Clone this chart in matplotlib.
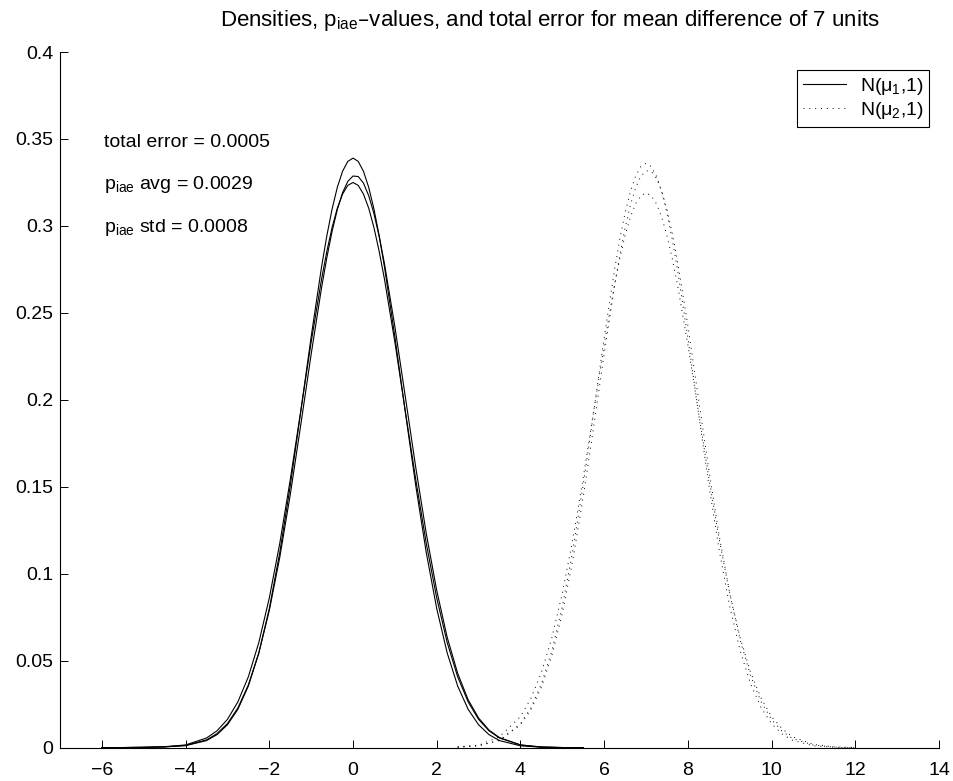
import matplotlib
matplotlib.use("Agg")
import matplotlib.pyplot as plt

plt.rcParams['font.family'] = ['Liberation Sans', 'DejaVu Sans']
plt.rcParams['mathtext.default'] = 'regular'

# densities: three estimates around mu1 = 0 (solid)
x1 = [-6.0, -5.5, -5.0, -4.5, -4.0, -3.5, -3.25, -3.0, -2.75, -2.5, -2.25, -2.0,
      -1.75, -1.5, -1.25, -1.0, -0.75, -0.625, -0.5, -0.375, -0.25, -0.125, 0.0,
      0.125, 0.25, 0.375, 0.5, 0.625, 0.75, 1.0,
      1.25, 1.5, 1.75, 2.0, 2.25, 2.5, 2.75, 3.0, 3.25, 3.5, 4.0, 4.5, 5.0, 5.5]
dens1_a = [0.0, 0.0001, 0.0002, 0.0005, 0.0012, 0.0041, 0.0075, 0.0132, 0.0221, 0.0355,
           0.0545, 0.0800, 0.1122, 0.1505, 0.1929, 0.2363, 0.2767, 0.2944, 0.3097, 0.3222,
           0.3314, 0.3371, 0.3390, 0.3371, 0.3314, 0.3222, 0.3097, 0.2944, 0.2767, 0.2363,
           0.1929, 0.1505, 0.1122, 0.0800, 0.0545, 0.0355,
           0.0221, 0.0132, 0.0075, 0.0041, 0.0011, 0.0003, 0.0001, 0.0]
dens1_b = [0.0, 0.0001, 0.0002, 0.0005, 0.0013, 0.0045, 0.0081, 0.0139, 0.0229, 0.0361,
           0.0545, 0.0789, 0.1094, 0.1454, 0.1853, 0.2262, 0.2647, 0.2818, 0.2969, 0.3094,
           0.3191, 0.3256, 0.3287, 0.3284, 0.3246, 0.3174, 0.3071, 0.2940, 0.2785, 0.2421,
           0.2017, 0.1610, 0.1232, 0.0904, 0.0635, 0.0428,
           0.0276, 0.0171, 0.0101, 0.0058, 0.0016, 0.0004, 0.0001, 0.0]
dens1_c = [0.0, 0.0001, 0.0003, 0.0006, 0.0016, 0.0056, 0.0097, 0.0163, 0.0264, 0.0408,
           0.0605, 0.0861, 0.1175, 0.1540, 0.1934, 0.2332, 0.2696, 0.2854, 0.2991, 0.3102,
           0.3183, 0.3233, 0.3250, 0.3233, 0.3183, 0.3102, 0.2991, 0.2854, 0.2696, 0.2332,
           0.1934, 0.1540, 0.1175, 0.0861, 0.0605, 0.0408,
           0.0264, 0.0163, 0.0097, 0.0056, 0.0016, 0.0004, 0.0001, 0.0]

# three estimates around mu2 = 7 (dotted)
x2 = [2.5, 3.0, 3.5, 4.0, 4.25, 4.5, 4.75, 5.0, 5.25, 5.5, 5.75, 6.0, 6.25, 6.375, 6.5,
      6.625, 6.75, 6.875, 7.0, 7.125, 7.25, 7.375, 7.5, 7.625, 7.75, 8.0, 8.25, 8.5,
      8.75, 9.0, 9.25, 9.5, 9.75, 10.0, 10.25, 10.5, 11.0, 11.5, 12.0]
dens2_a = [0.0003, 0.0011, 0.0043, 0.0138, 0.0230, 0.0366, 0.0557, 0.0812, 0.1133, 0.1512,
           0.1930, 0.2356, 0.2752, 0.2925, 0.3075, 0.3196, 0.3286, 0.3341, 0.3360, 0.3341,
           0.3286, 0.3196, 0.3075, 0.2925, 0.2752, 0.2356, 0.1930, 0.1512,
           0.1133, 0.0812, 0.0557, 0.0366, 0.0230, 0.0138, 0.0079, 0.0043,
           0.0011, 0.0003, 0.0]
dens2_b = [0.0004, 0.0012, 0.0042, 0.0131, 0.0218, 0.0347, 0.0529, 0.0772, 0.1078, 0.1442,
           0.1846, 0.2264, 0.2658, 0.2834, 0.2989, 0.3118, 0.3218, 0.3285, 0.3317, 0.3314,
           0.3274, 0.3201, 0.3095, 0.2960, 0.2801, 0.2427, 0.2014, 0.1600,
           0.1217, 0.0887, 0.0618, 0.0413, 0.0264, 0.0162, 0.0095, 0.0053,
           0.0015, 0.0003, 0.0]
dens2_c = [0.0005, 0.0014, 0.0063, 0.0179, 0.0284, 0.0432, 0.0631, 0.0887, 0.1197, 0.1553,
           0.1935, 0.2316, 0.2665, 0.2815, 0.2945, 0.3050, 0.3127, 0.3174, 0.3190, 0.3174,
           0.3127, 0.3050, 0.2945, 0.2815, 0.2665, 0.2316, 0.1935, 0.1553,
           0.1197, 0.0887, 0.0631, 0.0432, 0.0284, 0.0179, 0.0109, 0.0063,
           0.0019, 0.0005, 0.0001]

stats = ["total error = 0.0005", "p$_{iae}$ avg = 0.0029", "p$_{iae}$ std = 0.0008"]
stats_y = [0.348, 0.324, 0.299]

fig = plt.figure(figsize=(9.54, 7.81), dpi=100)
ax = fig.add_axes([0.0629, 0.0426, 0.9214, 0.8908])

dot = (0, (1, 5))
l1, = ax.plot(x1, dens1_a, color='k', lw=0.8)
ax.plot(x1, dens1_b, color='k', lw=0.8)
ax.plot(x1, dens1_c, color='k', lw=0.8)
l2, = ax.plot(x2, dens2_a, color='k', lw=0.7, linestyle=dot)
ax.plot(x2, dens2_b, color='k', lw=0.7, linestyle=dot)
ax.plot(x2, dens2_c, color='k', lw=0.7, linestyle=dot)

ax.set_xlim(-7, 14)
ax.set_ylim(0, 0.4)
ax.set_xticks(range(-6, 15, 2))
ax.set_yticks([0, 0.05, 0.1, 0.15, 0.2, 0.25, 0.3, 0.35, 0.4])
ax.set_yticklabels(['0', '0.05', '0.1', '0.15', '0.2', '0.25', '0.3', '0.35', '0.4'])
ax.tick_params(direction='in', length=6, width=0.7, labelsize=14, pad=5)
ax.tick_params(axis='x', pad=10)
for s in ['top', 'right']:
    ax.spines[s].set_visible(False)
for s in ['left', 'bottom']:
    ax.spines[s].set_linewidth(0.8)

for txt, yy in zip(stats, stats_y):
    ax.text(-5.95, yy, txt, fontsize=14, va='center', ha='left')

leg = ax.legend([l1, l2], ['N(\u03bc$_1$,1)', 'N(\u03bc$_2$,1)'],
                loc='upper right', bbox_to_anchor=(0.9886, 0.974), borderaxespad=0,
                fontsize=14, fancybox=False, framealpha=1, edgecolor='k',
                handlelength=2.2, borderpad=0.3, labelspacing=0.15, handletextpad=0.7)
leg.get_frame().set_linewidth(0.8)

fig.text(0.5765, 0.974, 'Densities, p$_{iae}$\u2013values, and total error for mean difference of 7 units',
         ha='center', va='center', fontsize=16)

fig.savefig('out.png', dpi=100)
